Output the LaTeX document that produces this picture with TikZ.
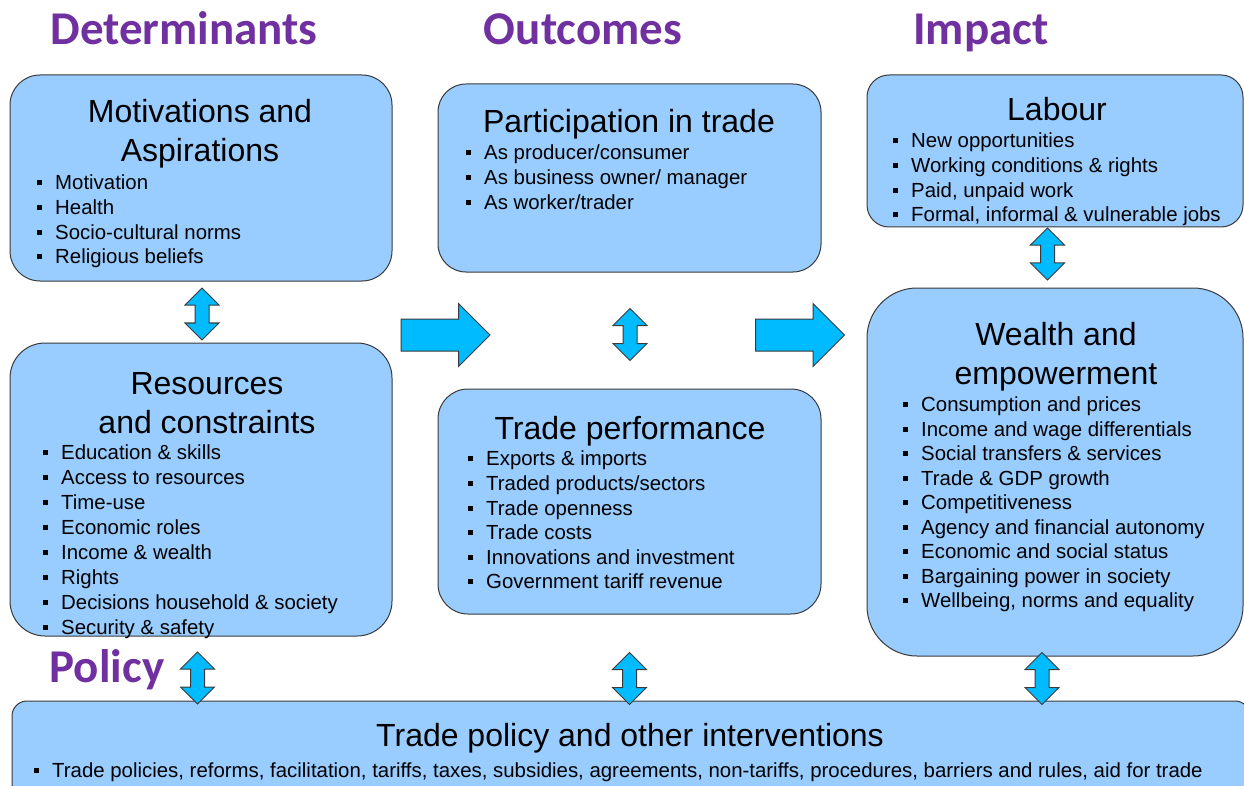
\documentclass[tikz,border=0pt]{standalone}
\usepackage{fontspec}
\setmainfont{Liberation Sans}
\newfontfamily\headfont{Carlito}
\usetikzlibrary{shapes.arrows}

\definecolor{boxblue}{HTML}{99CCFF}
\definecolor{arrowblue}{HTML}{00BBFF}
\definecolor{headpurple}{HTML}{7030A0}
\definecolor{edgegray}{HTML}{3A3A3A}

\newcommand{\blt}{\makebox[18pt][l]{\rule[4.5pt]{5pt}{5pt}}}

\tikzset{
	box/.style={draw=edgegray, line width=1pt, fill=boxblue, inner sep=0pt},
	heading/.style={anchor=base, text=headpurple, font=\headfont\bfseries\fontsize{47}{56}\selectfont},
	boxtitle/.style={anchor=north, align=center, inner sep=0pt, font=\fontsize{32}{39}\selectfont},
	bullets/.style={anchor=north west, align=left, inner sep=0pt, font=\fontsize{20.4}{24.6}\selectfont},
	bigarrow/.style={single arrow, draw=edgegray, fill=arrowblue, line width=1pt, inner xsep=0pt, inner ysep=15.5pt,
		minimum height=89pt, single arrow head extend=15.5pt},
	dblarrow/.style={double arrow, draw=edgegray, fill=arrowblue, line width=1pt, inner xsep=0pt, inner ysep=6.5pt,
		minimum height=52pt, double arrow head extend=10pt, rotate=90},
}

\begin{document}
\begin{tikzpicture}[x=1pt, y=-1pt]
		%%%%% START %%%%%
		\useasboundingbox (0, 0) rectangle (1244, 786);
		\clip (0, 0) rectangle (1244, 786);
		
		% column headings
		\node[heading] (hdet) at (184, 45) {Determinants};
		\node[heading] (hout) at (583, 45) {Outcomes};
		\node[heading] (himp) at (981, 45) {Impact};
		\node[heading] (hpol) at (107, 682) {Policy};
		
		% determinants
		\node[box, rounded corners=30pt, minimum width=382pt, minimum height=206pt] (motiv) at (201, 178) {};
		\node[boxtitle] (motivtitle) at (200, 99) {Motivations and\\Aspirations};
		\node[bullets] (motivlist) at (37, 175) {\blt Motivation\\\blt Health\\\blt Socio-cultural norms\\\blt Religious beliefs};
		
		\node[box, rounded corners=35pt, minimum width=382pt, minimum height=293pt] (resour) at (201, 489.5) {};
		\node[boxtitle] (resourtitle) at (207, 372) {Resources\\and constraints};
		\node[bullets, font=\fontsize{20.4}{24.9}\selectfont] (resourlist) at (43, 445) {\blt Education \& skills\\\blt Access to resources\\\blt Time-use\\\blt Economic roles\\\blt Income \& wealth\\\blt Rights\\\blt Decisions household \& society\\\blt Security \& safety};
		
		% outcomes
		\node[box, rounded corners=28pt, minimum width=383pt, minimum height=188pt] (partic) at (629.5, 178) {};
		\node[boxtitle] (partictitle) at (629, 109) {Participation in trade};
		\node[bullets] (particlist) at (466, 145) {\blt As producer/consumer\\\blt As business owner/ manager\\\blt As worker/trader};
		
		\node[box, rounded corners=30pt, minimum width=383pt, minimum height=225pt] (perf) at (629.5, 501.5) {};
		\node[boxtitle] (perftitle) at (630, 416) {Trade performance};
		\node[bullets] (perflist) at (468, 451) {\blt Exports \& imports\\\blt Traded products/sectors\\\blt Trade openness\\\blt Trade costs\\\blt Innovations and investment\\\blt Government tariff revenue};
		
		% impact
		\node[box, rounded corners=22pt, minimum width=376pt, minimum height=152pt] (labour) at (1055, 151) {};
		\node[boxtitle] (labourtitle) at (1057, 97) {Labour};
		\node[bullets] (labourlist) at (893, 133) {\blt New opportunities\\\blt Working conditions \& rights\\\blt Paid, unpaid work\\\blt Formal, informal \& vulnerable jobs};
		
		\node[box, rounded corners=50pt, minimum width=376pt, minimum height=368pt] (wealth) at (1055, 472) {};
		\node[boxtitle] (wealthtitle) at (1056, 322) {Wealth and\\empowerment};
		\node[bullets, font=\fontsize{20.4}{24.5}\selectfont] (wealthlist) at (903, 397) {\blt Consumption and prices\\\blt Income and wage differentials\\\blt Social transfers \& services\\\blt Trade \& GDP growth\\\blt Competitiveness\\\blt Agency and financial autonomy\\\blt Economic and social status\\\blt Bargaining power in society\\\blt Wellbeing, norms and equality};
		
		% policy
		\node[box, rounded corners=15pt, minimum width=1238pt, minimum height=99pt] (policy) at (631, 750.5) {};
		\node[boxtitle] (policytitle) at (630, 723) {Trade policy and other interventions};
		\node[bullets] (policylist) at (34, 763) {\blt Trade policies, reforms, facilitation, tariffs, taxes, subsidies, agreements, non-tariffs, procedures, barriers and rules, aid for trade};
		
		% arrows
		\node[bigarrow] (detout) at (437.5, 335) {};
		\node[bigarrow] (outimp) at (792, 335) {};
		
		\node[dblarrow] (motivresour) at (202, 314) {};
		\node[dblarrow] (particperf) at (630, 334.5) {};
		\node[dblarrow] (labourwealth) at (1047.5, 254) {};
		\node[dblarrow] (resourpolicy) at (197.5, 678) {};
		\node[dblarrow] (perfpolicy) at (629.5, 678.5) {};
		\node[dblarrow] (wealthpolicy) at (1042, 678.5) {};
		
		%%%%% END %%%%%
	\end{tikzpicture}
\end{document}
